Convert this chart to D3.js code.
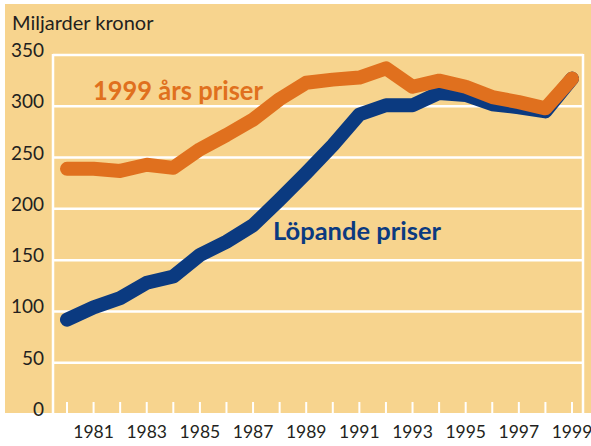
<!DOCTYPE html>
<html>
<head>
<meta charset="utf-8">
<script src="https://cdn.jsdelivr.net/npm/d3@7"></script>
<style>
  body { margin: 0; background: #fff; }
  text { font-family: Lato, "Open Sans", sans-serif; }
</style>
</head>
<body>
<div id="chart"></div>
<script>
// data
const years = d3.range(1980, 2000)
const fastaPriser = [239, 239, 237, 243, 240, 258, 272, 287, 307, 323, 326, 328, 337, 319, 325, 319, 309, 304, 298, 327]
const lopandePriser = [92, 104, 113, 128, 134, 155, 168, 184, 209, 235, 262, 292, 301, 301, 313, 311, 302, 299, 295, 327]
const yTicks = [0, 50, 100, 150, 200, 250, 300, 350]
const xLabels = [1981, 1983, 1985, 1987, 1989, 1991, 1993, 1995, 1997, 1999]

const width = 591, height = 446

const svg = d3.select("#chart")
  .append("svg")
  .attr("width", width)
  .attr("height", height)

// beige panel
svg.append("rect")
  .attr("x", 5).attr("y", 4)
  .attr("width", 586).attr("height", 409)
  .attr("fill", "#f7d48e")

const x = d3.scaleLinear().domain([1980, 1999]).range([67, 572])
const y = d3.scaleLinear().domain([0, 350]).range([414, 55])

// gridlines
svg.append("g")
  .selectAll("line")
  .data(yTicks.filter(d => d > 0))
  .join("line")
  .attr("x1", 53).attr("x2", 583)
  .attr("y1", d => y(d)).attr("y2", d => y(d))
  .attr("stroke", "#fff")
  .attr("stroke-width", 2.5)

// left and right borders
svg.append("g")
  .selectAll("line")
  .data([53, 583])
  .join("line")
  .attr("x1", d => d).attr("x2", d => d)
  .attr("y1", y(350) - 1).attr("y2", 413)
  .attr("stroke", "#fff")
  .attr("stroke-width", 2.5)

// year ticks
svg.append("g")
  .selectAll("line")
  .data(years)
  .join("line")
  .attr("x1", d => x(d)).attr("x2", d => x(d))
  .attr("y1", 402).attr("y2", 413)
  .attr("stroke", "#fff")
  .attr("stroke-width", 2)

// y tick labels
svg.append("g")
  .selectAll("text")
  .data(yTicks)
  .join("text")
  .attr("x", 44)
  .attr("y", d => y(d) + 2)
  .attr("text-anchor", "end")
  .style("font-size", "19px")
  .attr("fill", "#231f20")
  .text(d => d)

// x labels
svg.append("g")
  .selectAll("text")
  .data(xLabels)
  .join("text")
  .attr("x", d => x(d))
  .attr("y", 438)
  .attr("text-anchor", "middle")
  .style("font-size", "17.5px")
  .attr("fill", "#231f20")
  .text(d => d)

svg.append("text")
  .attr("x", 12).attr("y", 30)
  .style("font-size", "20px")
  .attr("fill", "#231f20")
  .text("Miljarder kronor")

const line = d3.line()
  .x((d, i) => x(years[i]))
  .y(d => y(d))

svg.append("path")
  .datum(lopandePriser)
  .attr("d", line)
  .attr("fill", "none")
  .attr("stroke", "#0b3a80")
  .attr("stroke-width", 14)
  .attr("stroke-linejoin", "round")
  .attr("stroke-linecap", "round")

svg.append("path")
  .datum(fastaPriser)
  .attr("d", line)
  .attr("fill", "none")
  .attr("stroke", "#e0701e")
  .attr("stroke-width", 14)
  .attr("stroke-linejoin", "round")
  .attr("stroke-linecap", "round")

// series labels
svg.append("text")
  .attr("x", 93).attr("y", 100)
  .attr("textLength", 170)
  .attr("lengthAdjust", "spacingAndGlyphs")
  .style("font-size", "27px")
  .style("font-weight", "bold")
  .attr("fill", "#e0701e")
  .text("1999 års priser")

svg.append("text")
  .attr("x", 273).attr("y", 240)
  .attr("textLength", 168)
  .attr("lengthAdjust", "spacingAndGlyphs")
  .style("font-size", "25px")
  .style("font-weight", "bold")
  .attr("fill", "#0b3a80")
  .text("Löpande priser")
</script>
</body>
</html>
